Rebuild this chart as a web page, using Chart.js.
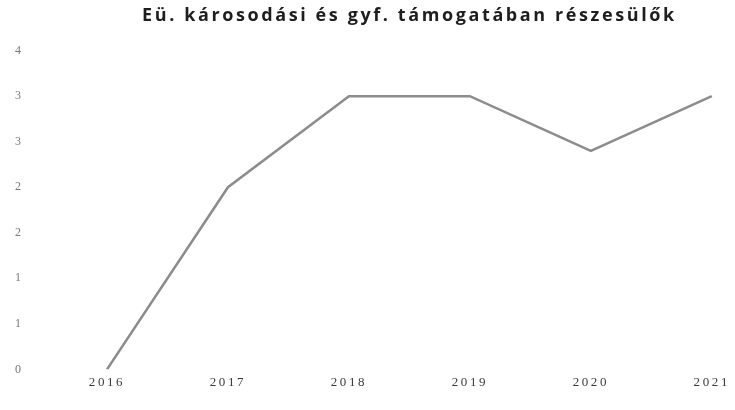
<!DOCTYPE html>
<html>
<head>
<meta charset="utf-8">
<script src="https://cdn.jsdelivr.net/npm/chart.js@4"></script>
<style>
  html, body { margin: 0; padding: 0; background: #fff; }
  #wrap { width: 735px; height: 410px; }
</style>
</head>
<body>
<div id="wrap"><canvas id="chart" width="735" height="410"></canvas></div>
<script>
/* ── Line chart: Eü. károsodási és gyf. támogatában részesülők ── */

const years = ['2016', '2017', '2018', '2019', '2020', '2021'];
const recipients = [0, 2, 3, 3, 2.4, 3];
const yTicks = [0, 0.5, 1, 1.5, 2, 2.5, 3, 3.5];

// the source picture is stretched sideways, so space the letters out a bit
const spacing = {
  id: 'spacing',
  beforeLayout: chart => { chart.ctx.letterSpacing = '2.6px'; },
  beforeDraw: chart => { chart.ctx.letterSpacing = '2.6px'; }
};

const ctx = document.getElementById('chart').getContext('2d');
new Chart(ctx, {
  type: 'line',
  data: {
    labels: years,
    datasets: [{
      label: 'Részesülők',
      data: recipients,
      borderColor: '#8c8c8c',
      borderWidth: 2.5,
      pointRadius: 0,
      tension: 0,
      fill: false,
    }]
  },
  options: {
    responsive: false,
    animation: false,
    layout: { padding: { left: 15, right: 0, top: 5, bottom: 15 } },
    plugins: {
      legend: { display: false },
      tooltip: { enabled: false },
      title: {
        display: true,
        fullSize: false,
        text: 'Eü. károsodási és gyf. támogatában részesülők',
        color: '#1e1e1e',
        font: { family: 'Open Sans', size: 18, weight: 'bold' },
        padding: { top: 0, bottom: 24 }
      }
    },
    scales: {
      x: {
        grid: { display: false, drawTicks: false },
        border: { display: false },
        ticks: {
          color: '#3a3a3a',
          padding: 5,
          maxRotation: 0,
          font: { family: 'Liberation Serif', size: 13 }
        }
      },
      y: {
        min: yTicks[0],
        max: yTicks[yTicks.length - 1],
        grid: { display: false, drawTicks: false },
        border: { display: false },
        afterBuildTicks: axis => { axis.ticks = yTicks.map(v => ({ value: v })); },
        afterFit: axis => { axis.width = 92; },
        ticks: {
          color: '#777',
          padding: 3,
          crossAlign: 'far',
          font: { family: 'Liberation Serif', size: 12 },
          callback: v => Number(v).toFixed(0)
        }
      }
    }
  },
  plugins: [spacing]
});
</script>
</body>
</html>
